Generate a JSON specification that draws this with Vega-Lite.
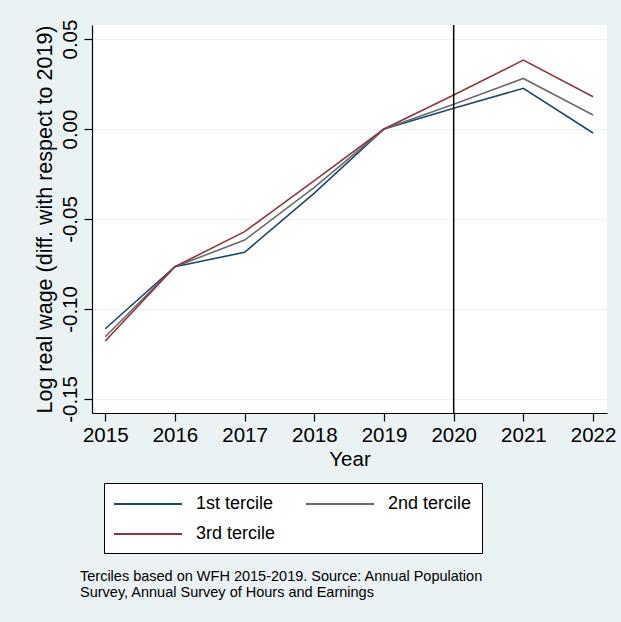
{
  "$schema": "https://vega.github.io/schema/vega-lite/v6.json",
  "width": 515,
  "height": 388,
  "autosize": "none",
  "padding": {"left": 92, "top": 25, "right": 14, "bottom": 209},
  "background": "#EAF2F3",
  "config": {
    "font": "Liberation Sans",
    "view": {"fill": "white", "stroke": null},
    "axis": {"labelFont": "Liberation Sans", "titleFont": "Liberation Sans", "labelColor": "black", "titleColor": "black", "domainColor": "black", "tickColor": "black", "labelFontSize": 20.5, "titleFontSize": 20.5, "titleFontWeight": "normal", "tickSize": 8, "domainWidth": 1.2, "tickWidth": 1.2}
  },
  "title": {
    "text": ["Terciles based on WFH 2015-2019. Source: Annual Population", "Survey, Annual Survey of Hours and Earnings"],
    "orient": "bottom",
    "anchor": "start",
    "frame": "group",
    "fontSize": 14.5,
    "fontWeight": "normal",
    "font": "Liberation Sans",
    "color": "black",
    "lineHeight": 16,
    "dx": -12,
    "offset": 16
  },
  "datasets": {
    "wages": [
      {"year": 2015, "group": "1st tercile", "value": -0.111},
      {"year": 2016, "group": "1st tercile", "value": -0.0765},
      {"year": 2017, "group": "1st tercile", "value": -0.0685},
      {"year": 2018, "group": "1st tercile", "value": -0.0356},
      {"year": 2019, "group": "1st tercile", "value": 0.0},
      {"year": 2020, "group": "1st tercile", "value": 0.0115},
      {"year": 2021, "group": "1st tercile", "value": 0.0226},
      {"year": 2022, "group": "1st tercile", "value": -0.0022},
      {"year": 2015, "group": "2nd tercile", "value": -0.1154},
      {"year": 2016, "group": "2nd tercile", "value": -0.0765},
      {"year": 2017, "group": "2nd tercile", "value": -0.0617},
      {"year": 2018, "group": "2nd tercile", "value": -0.0324},
      {"year": 2019, "group": "2nd tercile", "value": 0.0},
      {"year": 2020, "group": "2nd tercile", "value": 0.0137},
      {"year": 2021, "group": "2nd tercile", "value": 0.0281},
      {"year": 2022, "group": "2nd tercile", "value": 0.0078},
      {"year": 2015, "group": "3rd tercile", "value": -0.1178},
      {"year": 2016, "group": "3rd tercile", "value": -0.0765},
      {"year": 2017, "group": "3rd tercile", "value": -0.057},
      {"year": 2018, "group": "3rd tercile", "value": -0.0287},
      {"year": 2019, "group": "3rd tercile", "value": 0.0},
      {"year": 2020, "group": "3rd tercile", "value": 0.0189},
      {"year": 2021, "group": "3rd tercile", "value": 0.0383},
      {"year": 2022, "group": "3rd tercile", "value": 0.0179}
    ],
    "marker": [{"year": 2020}]
  },
  "layer": [
    {
      "data": {"name": "wages"},
      "mark": {"type": "line", "strokeWidth": 1.6},
      "encoding": {
        "x": {
          "field": "year", "type": "quantitative",
          "scale": {"domain": [2014.81, 2022.2], "nice": false, "zero": false},
          "axis": {"title": "Year", "values": [2015, 2016, 2017, 2018, 2019, 2020, 2021, 2022], "format": "d", "grid": false, "labelPadding": 4, "titlePadding": 4}
        },
        "y": {
          "field": "value", "type": "quantitative",
          "scale": {"domain": [-0.1578, 0.0578], "nice": false, "zero": false},
          "axis": {
            "title": "Log real wage (diff. with respect to 2019)",
            "titleFontSize": 21.5,
            "values": [-0.15, -0.1, -0.05, 0, 0.05],
            "labelExpr": "datum.value < -0.0001 ? '-' + format(-datum.value, '.2f') : format(abs(datum.value), '.2f')",
            "labelAngle": 270,
            "labelAlign": "center",
            "labelBaseline": "bottom",
            "labelPadding": 4,
            "titlePadding": 4,
            "grid": true,
            "gridColor": "#EAF2F3",
            "gridWidth": 1.2
          }
        },
        "color": {
          "field": "group", "type": "nominal",
          "scale": {"domain": ["1st tercile", "2nd tercile", "3rd tercile"], "range": ["#1a476f", "#6b6b6b", "#90353b"]},
          "legend": {
            "title": null,
            "orient": "none",
            "legendX": 12,
            "legendY": 458,
            "direction": "horizontal",
            "columns": 2,
            "symbolType": "M-3.4,0H3.4",
            "symbolSize": 400,
            "symbolStrokeWidth": 2,
            "symbolOffset": 23,
            "labelFontSize": 18,
            "labelFont": "Liberation Sans",
            "labelColor": "black",
            "labelOffset": 37,
            "columnPadding": 26,
            "rowPadding": 10,
            "padding": 10,
            "strokeColor": "black",
            "fillColor": "white",
            "labelLimit": 300
          }
        }
      }
    },
    {
      "data": {"name": "marker"},
      "mark": {"type": "rule", "color": "black", "strokeWidth": 1.5},
      "encoding": {"x": {"field": "year", "type": "quantitative"}}
    }
  ]
}
